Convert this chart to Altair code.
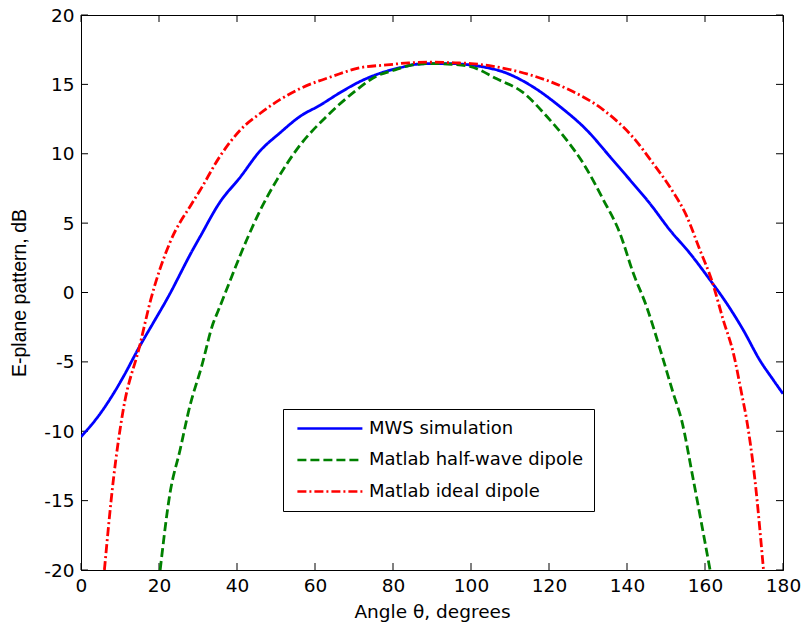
import altair as alt
import pandas as pd

# ---- data ----
mws_angle = [0, 5, 8.3, 10.8, 15, 18.5, 22, 28.7, 30.5, 35.6, 40.8, 45.9, 51, 56.2, 61.3, 66.4,
             71.5, 76.7, 81.8, 86, 90, 95, 98, 102.3, 109.2, 116, 122.8, 129.7, 135.6, 140.8,
             145.9, 151, 156.2, 161.3, 165.6, 169.8, 174.1, 177.5, 180]
mws_value = [-10.4, -8.7, -7.3, -6.1, -3.9, -2.2, -0.5, 3.1, 4.0, 6.5, 8.3, 10.2, 11.5, 12.7, 13.5,
             14.4, 15.2, 15.8, 16.2, 16.45, 16.5, 16.5, 16.45, 16.3, 15.8, 14.8, 13.4, 11.7, 9.8,
             8.1, 6.4, 4.5, 2.8, 0.9, -0.8, -2.7, -4.9, -6.3, -7.3]

half_angle = [20.3, 22.8, 25.4, 27.9, 30.9, 33.9, 35.2, 42.5, 45.9, 50.2, 55.3, 63, 69.8, 75.8,
              80, 85, 90, 95, 99.7, 106.6, 113.4, 119.4, 124.5, 128.8, 133.9, 138.2, 141.6, 145,
              148.5, 151.9, 154, 157, 161.3]
half_value = [-20, -14.5, -11.35, -8.2, -5.35, -2.2, -1.3, 3.8, 5.9, 8.1, 10.3, 12.7, 14.4, 15.6,
              16.0, 16.4, 16.5, 16.45, 16.3, 15.4, 14.4, 12.7, 11.0, 9.3, 6.7, 4.26, 1.4, -1.0,
              -4.1, -7.3, -9.2, -13.5, -20]

ideal_angle = [6, 8.3, 10.8, 15, 17.9, 22.8, 28.4, 30.5, 35.6, 40.8, 45.9, 51, 56.2, 64.7, 71.5,
               78.4, 84, 90, 96, 100, 105.7, 115, 124.5, 134, 141.5, 146.7, 151, 155.3, 158.7,
               161.7, 164.7, 167.3, 169.4, 170.7, 172.8, 175]
ideal_value = [-20, -13.5, -8.5, -3.9, -0.5, 3.6, 6.4, 7.35, 9.8, 11.7, 12.9, 13.9, 14.7, 15.6, 16.2,
               16.4, 16.55, 16.6, 16.55, 16.5, 16.3, 15.7, 14.7, 13.15, 11.2, 9.3, 7.6, 5.5, 3.06,
               0.9, -2.0, -4.4, -7.3, -9.2, -13.5, -20]

series_names = ["MWS simulation", "Matlab half-wave dipole", "Matlab ideal dipole"]
series_colors = ["#0000ff", "#008000", "#ff0000"]
series_dashes = [[1, 0], [9, 4], [9, 3, 2, 3]]

x_ticks = [0, 20, 40, 60, 80, 100, 120, 140, 160, 180]
y_ticks = [-20, -15, -10, -5, 0, 5, 10, 15, 20]

df = pd.concat([
    pd.DataFrame({"angle": mws_angle, "value": mws_value, "series": series_names[0]}),
    pd.DataFrame({"angle": half_angle, "value": half_value, "series": series_names[1]}),
    pd.DataFrame({"angle": ideal_angle, "value": ideal_value, "series": series_names[2]}),
])

HFONT = "DejaVu Sans"      # horizontal text
VFONT = "Liberation Sans"  # rotated y title
FS = 18.5
W, H = 702, 555
TICK = 7

xs = alt.Scale(domain=[0, 180], nice=False, zero=False)
ys = alt.Scale(domain=[-20, 20], nice=False, zero=False)

leg = alt.Legend(title=None, orient="none", legendX=202, legendY=394,
                 symbolType="M-4,0H4", symbolSize=264, symbolStrokeWidth=2.5,
                 symbolOffset=27.4, labelOffset=29.5,
                 labelFontSize=18, labelFont=HFONT, labelColor="black", labelLimit=0,
                 fillColor="white", strokeColor="black", padding=10,
                 rowPadding=12.5, symbolLimit=0)

lines = alt.Chart(df).mark_line(strokeWidth=2.8, clip=True, interpolate="monotone").encode(
    x=alt.X("angle:Q", scale=xs,
            axis=alt.Axis(values=x_ticks, title="Angle θ, degrees", grid=False, tickSize=0,
                          labelPadding=6, titlePadding=8, domainColor="black",
                          labelFlush=False, labelFont=HFONT, titleFont=HFONT)),
    y=alt.Y("value:Q", scale=ys,
            axis=alt.Axis(values=y_ticks, title="E-plane pattern, dB", grid=False, tickSize=0,
                          labelPadding=7, titlePadding=14, domainColor="black",
                          labelFlush=False, labelExpr="toString(datum.value)",
                          labelFont=HFONT, titleFont=VFONT, titleFontSize=19.5)),
    color=alt.Color("series:N", scale=alt.Scale(domain=series_names, range=series_colors),
                    legend=leg),
    strokeDash=alt.StrokeDash("series:N",
                              scale=alt.Scale(domain=series_names, range=series_dashes),
                              legend=leg),
    order=alt.Order("angle:Q"),
)

xt = pd.DataFrame({"t": x_ticks})
yt = pd.DataFrame({"t": y_ticks})

xb = alt.Chart(xt).mark_rule(color="black", strokeWidth=1).encode(
    x=alt.X("t:Q", scale=xs), y=alt.value(H), y2=alt.value(H - TICK))
xtp = alt.Chart(xt).mark_rule(color="black", strokeWidth=1).encode(
    x=alt.X("t:Q", scale=xs), y=alt.value(0), y2=alt.value(TICK))
yl = alt.Chart(yt).mark_rule(color="black", strokeWidth=1).encode(
    y=alt.Y("t:Q", scale=ys), x=alt.value(0), x2=alt.value(TICK))
yr = alt.Chart(yt).mark_rule(color="black", strokeWidth=1).encode(
    y=alt.Y("t:Q", scale=ys), x=alt.value(W), x2=alt.value(W - TICK))

chart = alt.layer(xb, xtp, yl, yr, lines).properties(
    width=W, height=H,
    autosize=alt.AutoSizeParams(type="none"),
    padding={"left": 81, "top": 15, "right": 19, "bottom": 61},
    background="white",
).configure_view(
    stroke="black", strokeWidth=1
).configure_axis(
    labelFontSize=FS, labelColor="black",
    titleFontSize=FS, titleColor="black", titleFontWeight="normal",
    domainWidth=1,
)

chart.save("out.html", embed_options={"renderer": "svg", "actions": False})
